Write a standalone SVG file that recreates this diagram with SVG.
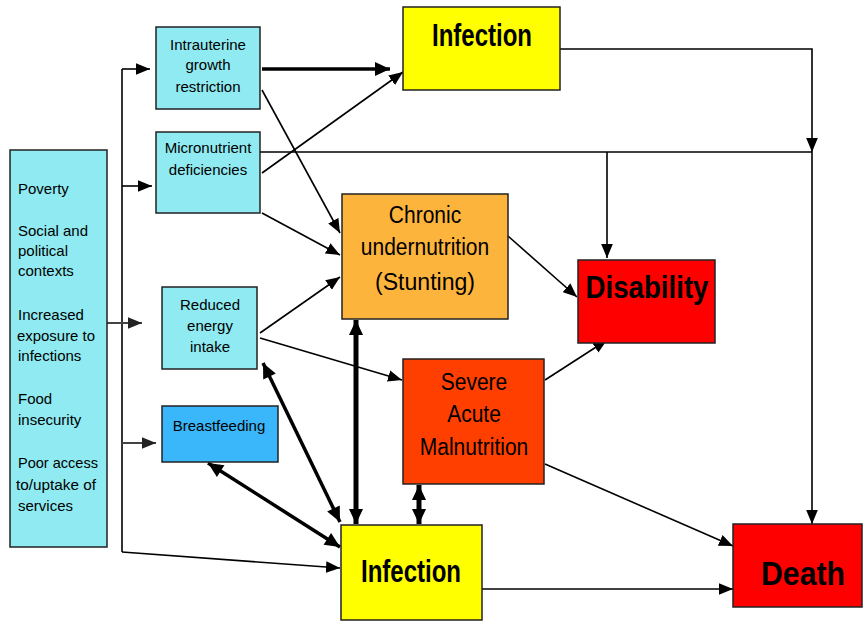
<svg xmlns="http://www.w3.org/2000/svg" width="863" height="621" viewBox="0 0 863 621">
<defs>
<style>
.box{stroke:#222;stroke-width:1.5}
.cyan{fill:#8FEBF1}
.blue{fill:#3AB7FB}
.orange{fill:#FDB43C}
.sam{fill:#FF3F00}
.red{fill:#FF0000}
.yellow{fill:#FFFF00}
text{font-family:"Liberation Sans",Arial,sans-serif;fill:#000}
.s{font-size:15px}
.c{text-anchor:middle}
.m{font-size:21px;text-anchor:middle}
.b{font-weight:bold;text-anchor:middle}
.ln{fill:none;stroke:#000;stroke-width:1.6}
.gr{fill:none;stroke:#444;stroke-width:2}
.tk{fill:none;stroke:#000;stroke-width:3.5}
.tk5{fill:none;stroke:#000;stroke-width:5}
</style>
<marker id="a" markerUnits="userSpaceOnUse" markerWidth="14" markerHeight="12" refX="12" refY="5" orient="auto-start-reverse" viewBox="0 0 12 10">
<path d="M0,0 L12,5 L0,10 Z" fill="#000"/>
</marker>
<marker id="ag" markerUnits="userSpaceOnUse" markerWidth="14" markerHeight="12" refX="12" refY="5" orient="auto-start-reverse" viewBox="0 0 12 10">
<path d="M0,0 L12,5 L0,10 Z" fill="#222"/>
</marker>
<marker id="A" markerUnits="userSpaceOnUse" markerWidth="16" markerHeight="14" refX="15" refY="7" orient="auto-start-reverse" viewBox="0 0 15 14">
<path d="M0,0 L15,7 L0,14 Z" fill="#000"/>
</marker>
</defs>
<rect width="863" height="621" fill="#fff"/>

<g id="connectors">
<path class="ln" d="M122,69 V552"/>
<path class="ln" d="M122,69 H150" marker-end="url(#a)"/>
<path class="ln" d="M122,186 H152" marker-end="url(#a)"/>
<path class="gr" d="M107,323 H142" marker-end="url(#ag)"/>
<path class="gr" d="M122,443 H156" marker-end="url(#ag)"/>
<path class="ln" d="M122,552 L340,568" marker-end="url(#a)"/>
<path class="tk" d="M262,69 H390" marker-end="url(#A)"/>
<path class="ln" d="M262,173 L403,72" marker-end="url(#a)"/>
<path class="ln" d="M262,90 L340,233" marker-end="url(#a)"/>
<path class="ln" d="M262,213 L340,255" marker-end="url(#a)"/>
<path class="ln" d="M260,152 H812"/>
<path class="ln" d="M607,152 V258" marker-end="url(#a)"/>
<path class="ln" d="M560,49 H812 V152" marker-end="url(#a)"/>
<path class="ln" d="M812,152 V524" marker-end="url(#a)"/>
<path class="ln" d="M260,333 L340,277" marker-end="url(#a)"/>
<path class="ln" d="M260,338 L402,380" marker-end="url(#a)"/>
<path class="tk" d="M263,363 L340,522" marker-start="url(#A)" marker-end="url(#A)"/>
<path class="tk" d="M208,463 L340,547" marker-start="url(#A)" marker-end="url(#A)"/>
<path class="tk5" d="M356,320 V524" marker-start="url(#A)" marker-end="url(#A)"/>
<path class="tk5" d="M419,485 V524" marker-start="url(#A)" marker-end="url(#A)"/>
<path class="ln" d="M508,236 L577,297" marker-end="url(#a)"/>
<path class="ln" d="M545,380 L607,340" marker-end="url(#a)"/>
<path class="ln" d="M545,464 L733,546" marker-end="url(#a)"/>
<path class="ln" d="M482,589 H733" marker-end="url(#a)"/>
</g>

<g id="determinants">
<rect class="box cyan" x="10" y="150" width="97" height="397"/>
<text class="s" x="18" y="194">Poverty</text>
<text class="s" x="18" y="236">Social and</text>
<text class="s" x="18" y="256">political</text>
<text class="s" x="18" y="276">contexts</text>
<text class="s" x="18" y="320">Increased</text>
<text class="s" x="17" y="341" textLength="78" lengthAdjust="spacingAndGlyphs">exposure to</text>
<text class="s" x="18" y="361">infections</text>
<text class="s" x="18" y="404">Food</text>
<text class="s" x="18" y="425">insecurity</text>
<text class="s" x="18" y="468" textLength="80" lengthAdjust="spacingAndGlyphs">Poor access</text>
<text class="s" x="16" y="490" textLength="80" lengthAdjust="spacingAndGlyphs">to/uptake of</text>
<text class="s" x="18" y="511">services</text>
</g>

<g id="iugr">
<rect class="box cyan" x="156" y="27" width="104" height="82"/>
<text class="s c" x="208" y="50">Intrauterine</text>
<text class="s c" x="208" y="70">growth</text>
<text class="s c" x="208" y="92">restriction</text>
</g>

<g id="micronutrient">
<rect class="box cyan" x="156" y="132" width="104" height="81"/>
<text class="s c" x="208" y="153">Micronutrient</text>
<text class="s c" x="208" y="175">deficiencies</text>
</g>

<g id="reduced-energy">
<rect class="box cyan" x="162" y="287" width="95" height="82"/>
<text class="s c" x="210" y="310">Reduced</text>
<text class="s c" x="210" y="331">energy</text>
<text class="s c" x="210" y="352">intake</text>
</g>

<g id="breastfeeding">
<rect class="box blue" x="162" y="406" width="116" height="56"/>
<text class="s c" x="219" y="431">Breastfeeding</text>
</g>

<g id="infection-top">
<rect class="box yellow" x="403" y="7" width="157" height="83"/>
<text class="b" x="482" y="46" font-size="31" textLength="100" lengthAdjust="spacingAndGlyphs">Infection</text>
</g>

<g id="chronic">
<rect class="box orange" x="342" y="194" width="166" height="125"/>
<text class="m" transform="translate(425,223) scale(1,1.15)">Chronic</text>
<text class="m" transform="translate(425,255) scale(1,1.15)">undernutrition</text>
<text class="m" transform="translate(425,290) scale(1,1.15)" textLength="100" lengthAdjust="spacingAndGlyphs">(Stunting)</text>
</g>

<g id="disability">
<rect class="box red" x="578" y="260" width="137" height="83"/>
<text class="b" x="647" y="298" font-size="32" textLength="123" lengthAdjust="spacingAndGlyphs">Disability</text>
</g>

<g id="sam">
<rect class="box sam" x="403" y="359" width="141" height="125"/>
<text class="m" transform="translate(474,390) scale(1,1.15)">Severe</text>
<text class="m" transform="translate(474,422) scale(1,1.15)">Acute</text>
<text class="m" transform="translate(474,455) scale(1,1.15)">Malnutrition</text>
</g>

<g id="infection-bottom">
<rect class="box yellow" x="341" y="525" width="141" height="95"/>
<text class="b" x="411" y="582" font-size="31" textLength="100" lengthAdjust="spacingAndGlyphs">Infection</text>
</g>

<g id="death">
<rect class="box red" x="733" y="524" width="129" height="83"/>
<text class="b" x="803" y="585" font-size="34" textLength="84" lengthAdjust="spacingAndGlyphs">Death</text>
</g>
</svg>
